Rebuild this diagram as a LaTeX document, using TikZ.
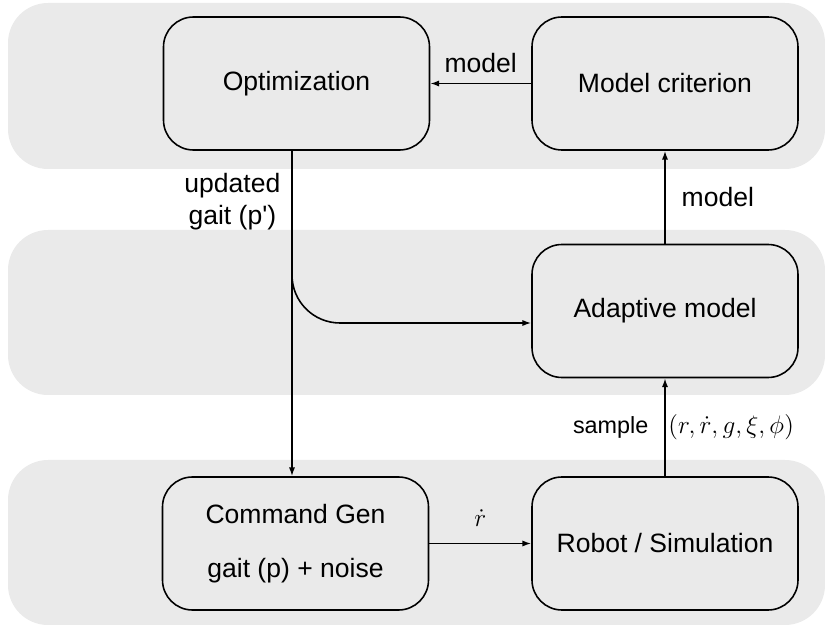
\documentclass[tikz,border=0pt]{standalone}
\usepackage{fontspec}
\setmainfont{Liberation Sans}
\usetikzlibrary{arrows.meta}
\definecolor{bandgray}{RGB}{234,234,234}

\begin{document}
\begin{tikzpicture}
\tikzstyle{every node}=[font=\fontsize{15.1}{18}\selectfont]
\tikzstyle{band}=[fill=bandgray,rounded corners=0.8cm]
\tikzstyle{b}=[draw,rounded corners=0.6cm,minimum width=5.32cm,minimum height=2.66cm,line width=0.9pt,align=center]
\tikzstyle{arr}=[-{Latex[length=5pt,width=3.5pt]},line width=0.9pt]
\tikzstyle{small}=[font=\fontsize{13.3}{16}\selectfont]
\tikzstyle{mth}=[font=\fontsize{14.6}{17}\selectfont]
\useasboundingbox (0,0) rectangle (16.5,12.52);

% Background bands
\fill[band] (0.16,9.14) rectangle (16.5,12.46);
\fill[band] (0.16,4.62) rectangle (16.5,7.92);
\fill[band] (0.16,0.02) rectangle (16.5,3.32);

% Blocks
\node[b] (opt) at (5.93,10.85) {Optimization};
\node[b] (crit) at (13.3,10.85) {Model criterion};
\node[b] (adap) at (13.3,6.3) {Adaptive model};
\node[b] (cmd) at (5.91,1.65) {Command Gen\\[0.45cm]gait (p) + noise};
\node[b] (robot) at (13.3,1.65) {Robot / Simulation};
\coordinate (split) at (5.84,7.02);

% Arrows
\draw[arr] (crit) -- node[above=0.08cm] {model} (opt);
\draw[arr] (adap) -- node[right=0.2cm] {model} (crit);
\draw[arr] (robot) -- node[small,left=0.2cm] {sample} node[mth,right,inner sep=1.5pt] {$(r,\dot{r},g,\xi,\phi)$} (adap);
\draw[arr] (cmd) -- node[mth,above=0.2cm] {$\dot{r}$} (robot);
\draw[arr] (opt.south -| split) -- node[left=0.1cm,pos=0.156,align=center] {updated\\gait (p\textquotesingle)} (cmd.north -| split);
\draw[arr,rounded corners=0.96cm] (split) |- ([yshift=-0.24cm]adap.west);
\end{tikzpicture}
\end{document}
